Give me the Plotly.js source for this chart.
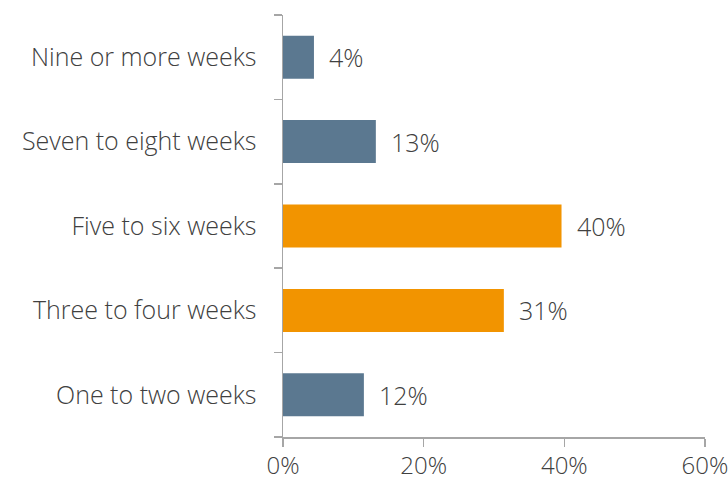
<!DOCTYPE html>
<html>
<head>
<meta charset="utf-8">
<script src="https://cdn.plot.ly/plotly-3.0.1.min.js"></script>
<style>body{margin:0;padding:0;background:#fff}#chart{width:728px;height:481px}</style>
</head>
<body>
<div id="chart"></div>
<script>
const categories = ["One to two weeks", "Three to four weeks", "Five to six weeks", "Seven to eight weeks", "Nine or more weeks"];
const values = [11.5, 31.4, 39.6, 13.2, 4.4];
const valueLabels = ["12%", "31%", "40%", "13%", "4%"];
const barColors = ["#5b7890", "#f29400", "#f29400", "#5b7890", "#5b7890"];
const xTickVals = [0, 20, 40, 60];
const xTickText = ["0%", "20%", "40%", "60%"];

const fontFamily = "'Open Sans', Roboto, sans-serif";
const textColor = "#404040";

const trace = {
  type: "bar",
  orientation: "h",
  x: values,
  y: categories,
  marker: {color: barColors},
  width: 0.51,
  hoverinfo: "none"
};

const annotations = values.map((v, i) => ({
  x: v, y: categories[i], xref: "x", yref: "y",
  text: valueLabels[i], showarrow: false,
  xanchor: "left", yanchor: "middle", xshift: 13,
  font: {family: fontFamily, size: 25, color: textColor, weight: 300}
}));

const layout = {
  width: 728, height: 481,
  margin: {l: 283, r: 23, t: 15, b: 44},
  paper_bgcolor: "#ffffff",
  plot_bgcolor: "#ffffff",
  showlegend: false,
  bargap: 0.49,
  xaxis: {
    range: [0, 60],
    tickvals: xTickVals,
    ticktext: xTickText,
    showgrid: false,
    zeroline: false,
    showline: true,
    linecolor: "#a6a6a6",
    linewidth: 1.5,
    ticks: "outside",
    ticklen: 8,
    tickcolor: "#a6a6a6",
    tickwidth: 1.5,
    ticklabeloverflow: "allow",
    ticklabelstandoff: -1,
    tickfont: {family: fontFamily, size: 24, color: textColor, weight: 300},
    fixedrange: true
  },
  yaxis: {
    type: "category",
    categoryorder: "array",
    categoryarray: categories,
    showgrid: false,
    zeroline: false,
    showline: true,
    linecolor: "#a6a6a6",
    linewidth: 1.5,
    ticks: "outside",
    tickson: "boundaries",
    ticklen: 8,
    tickcolor: "#a6a6a6",
    tickwidth: 1.5,
    ticklabelstandoff: 20,
    tickfont: {family: fontFamily, size: 25, color: textColor, weight: 300},
    fixedrange: true
  },
  annotations: annotations
};

Plotly.newPlot("chart", [trace], layout, {displayModeBar: false, staticPlot: true});
</script>
</body>
</html>
